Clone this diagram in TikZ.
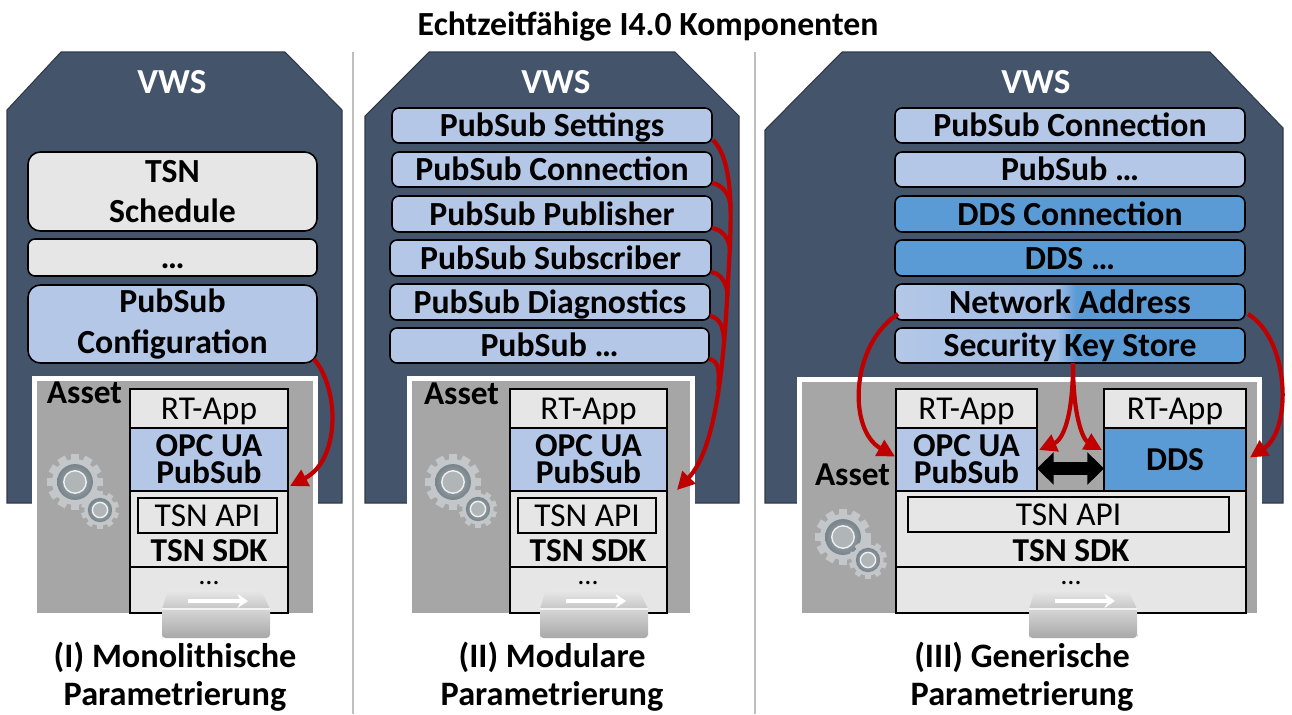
\documentclass[tikz,border=0pt]{standalone}
\usepackage{fontspec}
\setmainfont{Carlito}
\usetikzlibrary{arrows.meta,calc}

\definecolor{vwsdark}{HTML}{44546A}
\definecolor{vwsedge}{HTML}{2E3A4A}
\definecolor{lightblue}{HTML}{B4C7E7}
\definecolor{midblue}{HTML}{A0BDE6}
\definecolor{ddsblue}{HTML}{5B9BD5}
\definecolor{lightgray}{HTML}{E7E6E6}
\definecolor{assetgray}{HTML}{A6A6A6}
\definecolor{arrowred}{HTML}{C00000}
\definecolor{sepgray}{HTML}{BFBFBF}
\definecolor{gearlight}{HTML}{C3C7C9}
\definecolor{gearring}{HTML}{85929A}
\definecolor{gearhole}{HTML}{B0B5B8}
\definecolor{swA}{HTML}{E8E8E8}
\definecolor{swB}{HTML}{C6C6C6}
\definecolor{swC}{HTML}{D6D6D6}
\definecolor{swD}{HTML}{A8A8A8}

% box given by its pixel corners: name, style, x1, y1, x2, y2, text
\newcommand\mkbox[7]{\node[#2, anchor=north west,
  minimum width={(#5-#3)*0.02cm}, minimum height={(#6-#4)*0.02cm}] (#1) at (#3,#4) {#7};}

% gear: centre x, centre y, tip radius, number of teeth
\newcommand\mkgear[4]{%
  \begin{scope}[shift={(#1,#2)}]
    \foreach \k in {1,...,#4}
      \fill[gearlight, rotate={360/#4*\k}] (-0.15*#3,0) rectangle (0.15*#3,#3);
    \fill[gearlight] (0,0) circle[radius={0.82*#3*0.02cm}];
    \shade[inner color=gearring!70, outer color=gearring!90!black] (0,0) circle[radius={0.64*#3*0.02cm}];
    \fill[gearhole] (0,0) circle[radius={0.4*#3*0.02cm}];
    \draw[white!80!gearhole, line width=0.8pt] (0,0) circle[radius={0.4*#3*0.02cm}];
  \end{scope}}

% network switch: left x, top y
\newcommand\mkswitch[2]{%
  \begin{scope}[shift={(#1,#2)}]
    \shade[top color=swA, bottom color=swB] (6,0) -- (99,0) -- (108,19) -- (0,19) -- cycle;
    \shade[top color=swC, bottom color=swD] (0,19) -- (108,19) -- (108,46) [rounded corners=2pt] -- (108,48) -- (0,48) -- (0,46) [sharp corners] -- cycle;
    \draw[white!90!gray, line width=0.6pt] (0,19) -- (108,19);
    \draw[white, line width=2pt, -{Stealth[length=6pt,width=8pt]}] (26,11) -- (86,11);
  \end{scope}}

\begin{document}
\begin{tikzpicture}[x=0.02cm, y=-0.02cm,
  every node/.style={inner sep=0pt, outer sep=0pt},
  cfg/.style={draw=black, line width=0.9pt, rounded corners=4pt, align=center,
    font=\bfseries\fontsize{19.2}{23}\selectfont},
  oneline/.style={text height=14pt, text depth=1pt},
  layer/.style={draw=black, line width=1.1pt, align=center, font=\fontsize{19}{23}\selectfont},
  layerbold/.style={layer, font=\bfseries\fontsize{19}{15.5}\selectfont},
  apibox/.style={draw=black, line width=0.9pt, fill=lightgray, font=\fontsize{19}{23}\selectfont},
  boldtext/.style={font=\bfseries\fontsize{19}{23}\selectfont},
  dotstext/.style={font=\fontsize{16}{18}\selectfont},
  vwsshape/.style={fill=vwsdark, draw=vwsedge, line width=0.6pt},
  vwslabel/.style={text=white, font=\bfseries\fontsize{20}{24}\selectfont},
  redline/.style={draw=arrowred, line width=2.4pt},
  redarrow/.style={redline, -{Triangle[length=10pt,width=10pt]}},
  dblarrow/.style={draw=black, line width=7pt,
    {Triangle[length=9.5pt,width=18pt]}-{Triangle[length=9.5pt,width=18pt]}},
  sepline/.style={draw=sepgray, line width=1.2pt},
  caption/.style={align=center, font=\bfseries\fontsize{19.5}{21.5}\selectfont},
  titletext/.style={font=\bfseries\fontsize{19.2}{23}\selectfont},
]
\useasboundingbox (0,0) rectangle (1292,714);

% title and panel separators
\node[titletext, anchor=base] (title) at (648,35) {Echtzeitfähige I4.0 Komponenten};
\draw[sepline] (353,52) -- (353,714);
\draw[sepline] (755,52) -- (755,714);

% ---------------- (I) monolithic ----------------
\path[vwsshape] (7,110) -- (61,52) -- (285,52) -- (342,110) -- (342,503) -- (7,503) -- cycle;
\node[vwslabel, anchor=base] (vws1) at (172,93) {VWS};
\mkbox{tsn1}{cfg, fill=lightgray, rounded corners=7pt}{28}{152}{317}{231}{TSN\\Schedule}
\mkbox{etc1}{cfg, fill=lightgray, oneline}{28}{239}{317}{276}{…}
\mkbox{cfg1}{cfg, fill=lightblue, rounded corners=7pt}{28}{285}{317}{363}{PubSub\\Configuration}

\fill[white] (32,376) rectangle (318,617);
\fill[assetgray] (37,381) rectangle (313,613);
\node[boldtext, anchor=base west] (asset1) at (47,403) {Asset};
\mkgear{75}{482}{28}{12}
\mkgear{100}{510}{19}{10}
\mkbox{rt1}{layer, fill=lightgray, oneline}{130}{389}{288}{428}{RT-App}
\mkbox{opc1}{layerbold, fill=lightblue}{130}{428}{288}{491}{OPC UA\\PubSub}
\mkbox{sdk1}{layer, fill=lightgray}{130}{491}{288}{567}{}
\mkbox{api1}{apibox, oneline}{138}{498}{277}{533}{TSN API}
\node[boldtext, anchor=base] (sdkt1) at (209,561) {TSN SDK};
\mkbox{more1}{layer, fill=lightgray}{130}{567}{288}{613}{}
\node[dotstext, anchor=base] (moret1) at (209,584) {…};
\mkswitch{162}{590}

\draw[redarrow] ($(cfg1.south east)+(-3,-4)$) .. controls (340,390) and (340,460) .. ($(opc1.south east)+(2,-5)$);

\node[caption] (cap1) at (175,677) {(I) Monolithische\\Parametrierung};

% ---------------- (II) modular ----------------
\path[vwsshape] (365,116) -- (429,52) -- (675,52) -- (739,116) -- (739,503) -- (365,503) -- cycle;
\node[vwslabel, anchor=base] (vws2) at (556,93) {VWS};
\mkbox{s2a}{cfg, fill=lightblue, oneline}{392}{108}{712}{143}{PubSub Settings}
\mkbox{s2b}{cfg, fill=lightblue, oneline}{392}{152}{712}{187}{PubSub Connection}
\mkbox{s2c}{cfg, fill=lightblue, oneline}{392}{196}{712}{232}{PubSub Publisher}
\mkbox{s2d}{cfg, fill=lightblue, oneline}{390}{240}{711}{276}{PubSub Subscriber}
\mkbox{s2e}{cfg, fill=lightblue, oneline}{390}{284}{710}{320}{PubSub Diagnostics}
\mkbox{s2f}{cfg, fill=lightblue, oneline}{390}{328}{709}{363}{PubSub …}

\fill[white] (407,376) rectangle (695,617);
\fill[assetgray] (412,381) rectangle (690,613);
\node[boldtext, anchor=base west] (asset2) at (424,404) {Asset};
\mkgear{453}{482}{28}{12}
\mkgear{478}{509}{19}{10}
\mkbox{rt2}{layer, fill=lightgray, oneline}{510}{389}{667}{428}{RT-App}
\mkbox{opc2}{layerbold, fill=lightblue}{510}{428}{667}{491}{OPC UA\\PubSub}
\mkbox{sdk2}{layer, fill=lightgray}{510}{491}{667}{567}{}
\mkbox{api2}{apibox, oneline}{518}{498}{656}{533}{TSN API}
\node[boldtext, anchor=base] (sdkt2) at (588,561) {TSN SDK};
\mkbox{more2}{layer, fill=lightgray}{510}{567}{667}{613}{}
\node[dotstext, anchor=base] (moret2) at (588,584) {…};
\mkswitch{540}{590}

% collected settings flow into the PubSub layer
\coordinate (j2b) at (730.5,207);
\coordinate (j2c) at (730,251);
\coordinate (j2d) at (727.5,296);
\coordinate (j2e) at (724,342);
\coordinate (j2f) at (718.5,386);
\draw[redarrow] ($(s2a.south east)+(1,-3)$) .. controls (738,165) and (730,240) .. (727,300)
  .. controls (723,370) and (715,450) .. ($(opc2.south east)+(10,-1)$);
\foreach \b in {b,c,d,e,f}
  \draw[redline] ($(s2\b.south east)+(0,-4)$) .. controls +(12,2) and +(0,-10) .. (j2\b);

\node[caption] (cap2) at (552,677) {(II) Modulare\\Parametrierung};

% ---------------- (III) generic ----------------
\path[vwsshape] (765,130) -- (842,52) -- (1210,52) -- (1283,128) -- (1283,503) -- (765,503) -- cycle;
\node[vwslabel, anchor=base] (vws3) at (1036,93) {VWS};
\mkbox{p3a}{cfg, fill=lightblue, oneline}{895}{108}{1245}{143}{PubSub Connection}
\mkbox{p3b}{cfg, fill=lightblue, oneline}{895}{152}{1245}{187}{PubSub …}
\mkbox{d3a}{cfg, fill=ddsblue, oneline}{895}{196}{1245}{232}{DDS Connection}
\mkbox{d3b}{cfg, fill=ddsblue, oneline}{895}{240}{1245}{276}{DDS …}
% shared entries: half PubSub, half DDS
\begin{scope}
  \clip[rounded corners=4pt] (895,284) rectangle (1245,320);
  \fill[ddsblue] (895,284) rectangle (1245,320);
  \shade[left color=lightblue, right color=midblue] (895,284) rectangle (1058,320);
  \shade[left color=midblue, right color=ddsblue] (1057,284) rectangle (1076,320);
\end{scope}
\mkbox{na3}{cfg, oneline}{895}{284}{1245}{320}{Network Address}
\begin{scope}
  \clip[rounded corners=4pt] (895,328) rectangle (1245,363);
  \fill[ddsblue] (895,328) rectangle (1245,363);
  \shade[left color=lightblue, right color=midblue] (895,328) rectangle (1058,363);
  \shade[left color=midblue, right color=ddsblue] (1057,328) rectangle (1076,363);
\end{scope}
\mkbox{sk3}{cfg, oneline}{895}{328}{1245}{363}{Security Key Store}

\fill[white] (797,377) rectangle (1262,617);
\fill[assetgray] (802,382) rectangle (1257,613);
\node[boldtext, anchor=base west] (asset3) at (815,485) {Asset};
\mkgear{843}{537}{28}{12}
\mkgear{868}{560}{19}{10}
\mkbox{rt3a}{layer, fill=lightgray, oneline}{896}{389}{1037}{428}{RT-App}
\mkbox{opc3}{layerbold, fill=lightblue}{896}{428}{1037}{491}{OPC UA\\PubSub}
\mkbox{rt3b}{layer, fill=lightgray, oneline}{1104}{389}{1246}{428}{RT-App}
\mkbox{dds3}{layerbold, fill=ddsblue}{1104}{428}{1246}{491}{DDS}
\mkbox{sdk3}{layer, fill=lightgray}{896}{491}{1246}{567}{}
\mkbox{api3}{apibox, oneline}{908}{497}{1229}{532}{TSN API}
\node[boldtext, anchor=base] (sdkt3) at (1071,561) {TSN SDK};
\mkbox{more3}{layer, fill=lightgray}{896}{567}{1246}{613}{}
\node[dotstext, anchor=base] (moret3) at (1071,584) {…};
\mkswitch{1029}{590}

\draw[dblarrow] ($(opc3.east)+(0,9)$) -- ($(dds3.west)+(0,9)$);
\draw[redarrow] ($(na3.south west)+(3,-6)$) .. controls (850,345) and (848,430) .. ($(opc3.west)+(-1,-3)$);
\draw[redarrow] ($(na3.south east)+(3,-6)$) .. controls (1290,340) and (1292,430) .. ($(dds3.east)+(4,-2)$);
\draw[redarrow] ($(sk3.south)+(3,0)$) .. controls (1073,420) and (1062,440) .. ($(opc3.north east)+(2,22)$);
\draw[redarrow] ($(sk3.south)+(3,0)$) .. controls (1073,420) and (1084,440) .. ($(dds3.north west)+(-2,22)$);

\node[caption] (cap3) at (1022,677) {(III) Generische\\Parametrierung};
\end{tikzpicture}
\end{document}
